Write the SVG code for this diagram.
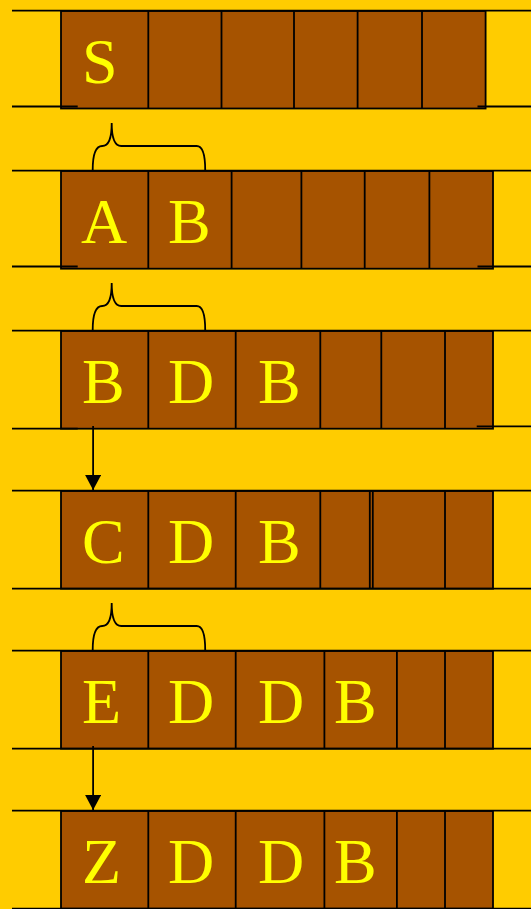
<svg xmlns="http://www.w3.org/2000/svg" width="531" height="909" viewBox="0 0 531 909">
<defs>
<style>
.ln{stroke:#000;stroke-width:1.8;fill:none}
.box{fill:#A65300;stroke:#000;stroke-width:1.8}
.dv{stroke:#000;stroke-width:1.8}
.t{font-family:'Liberation Serif','Times New Roman',serif;font-size:64px;fill:#FFFF00}
</style>
<marker id="ah" markerWidth="16" markerHeight="16" refX="15" refY="8" orient="auto" markerUnits="userSpaceOnUse">
<path d="M0,0 L15,8 L0,16 Z" fill="#000"/>
</marker>
<path id="brace" d="M0,0 C0,-15 2.5,-24 9.5,-24 C15.5,-24 19,-30 19,-47 C19,-30 22.5,-24 28.5,-24 L104,-24 C110,-24 112.5,-15 112.5,0"/>
</defs>
<rect width="531" height="909" fill="#FFCC00"/>

<g id="row1">
<rect class="box" x="61" y="11" width="424.6" height="97.5"/>
<path class="dv" d="M148.3,11V108.5M221.5,11V108.5M294,11V108.5M357.6,11V108.5M422,11V108.5"/>
<path class="ln" d="M12,10.7H531M12,106.5H77.7M477.5,106.5H531"/>
<text class="t" x="82" y="82.5">S</text>
</g>

<g id="row2">
<rect class="box" x="61" y="171" width="432" height="97.7"/>
<path class="dv" d="M148.3,171V268.7M231.6,171V268.7M301.4,171V268.7M364.7,171V268.7M429.4,171V268.7"/>
<path class="ln" d="M12,170.7H531M12,266.5H77.7M477.5,266.5H531"/>
<text class="t" x="81" y="242.7">A</text>
<text class="t" x="168" y="242.7">B</text>
</g>

<g id="row3">
<rect class="box" x="61" y="331" width="432" height="97.7"/>
<path class="dv" d="M148.3,331V428.7M235.7,331V428.7M320.3,331V428.7M381.3,331V428.7M445,331V428.7"/>
<path class="ln" d="M12,330.7H531M12,428.7H77.7M476.7,426.3H531"/>
<text class="t" x="82" y="402.7">B</text>
<text class="t" x="168" y="402.7">D</text>
<text class="t" x="258" y="402.7">B</text>
</g>

<g id="row4">
<rect class="box" x="61" y="491" width="432" height="97.7"/>
<path class="dv" d="M148.3,491V588.7M235.7,491V588.7M320.3,491V588.7M369.8,491V588.7M372.8,491V588.7M445,491V588.7"/>
<path class="ln" d="M12,490.7H531M12,588.7H531"/>
<text class="t" x="82" y="563.3">C</text>
<text class="t" x="168" y="563.3">D</text>
<text class="t" x="258" y="563.3">B</text>
</g>

<g id="row5">
<rect class="box" x="61" y="651" width="432" height="97.7"/>
<path class="dv" d="M148.3,651V748.7M235.7,651V748.7M324.4,651V748.7M396.9,651V748.7M445,651V748.7"/>
<path class="ln" d="M12,650.7H531M12,748.7H531"/>
<text class="t" x="82" y="722.7">E</text>
<text class="t" x="168" y="722.7">D</text>
<text class="t" x="258" y="722.7">D</text>
<text class="t" x="334" y="722.7">B</text>
</g>

<g id="row6">
<rect class="box" x="61" y="811" width="432" height="97.7"/>
<path class="dv" d="M148.3,811V908.7M235.7,811V908.7M324.4,811V908.7M396.9,811V908.7M445,811V908.7"/>
<path class="ln" d="M12,810.7H531M12,908.7H531"/>
<text class="t" x="82" y="883.3">Z</text>
<text class="t" x="168" y="883.3">D</text>
<text class="t" x="258" y="883.3">D</text>
<text class="t" x="334" y="883.3">B</text>
</g>

<g id="connectors">
<use href="#brace" class="ln" x="92.7" y="170"/>
<use href="#brace" class="ln" x="92.7" y="330"/>
<use href="#brace" class="ln" x="92.7" y="650"/>
<path class="ln" d="M93.1,426V490" marker-end="url(#ah)"/>
<path class="ln" d="M93.1,746V810" marker-end="url(#ah)"/>
</g>
</svg>
